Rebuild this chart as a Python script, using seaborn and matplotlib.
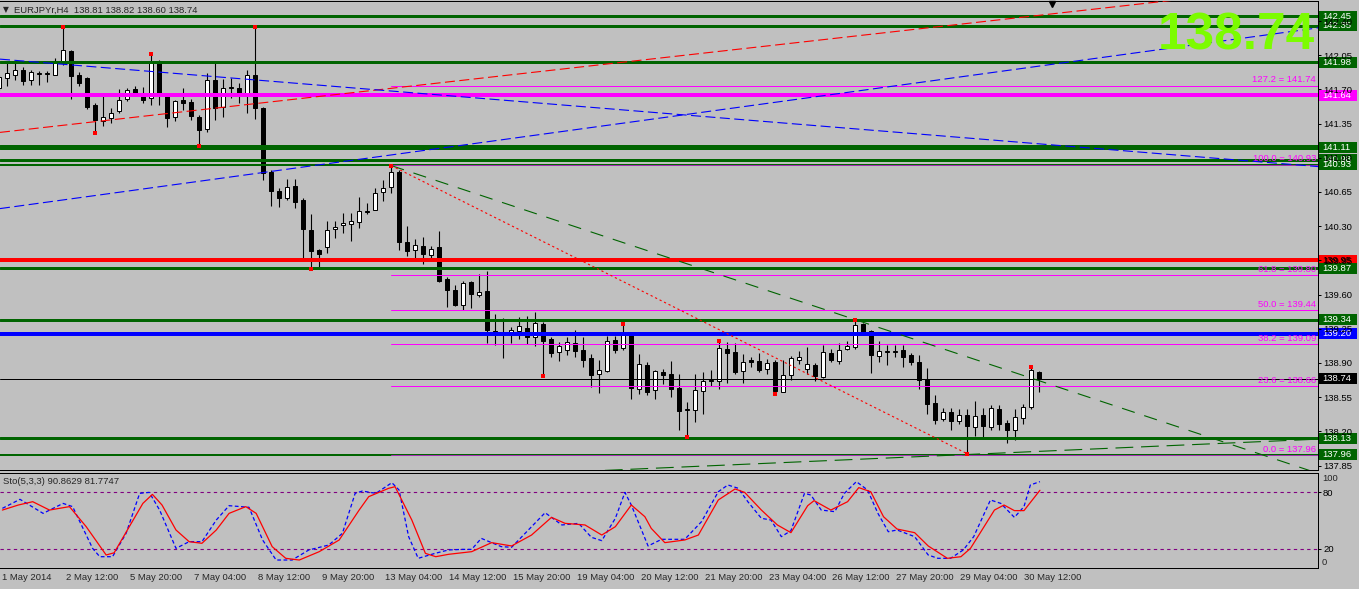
import numpy as np
import matplotlib
matplotlib.use("Agg")
import matplotlib.pyplot as plt
import matplotlib.transforms as mtransforms
from matplotlib.patches import Rectangle
import seaborn as sns

# EURJPYr H4 candles, bar 0 = first visible bar (1 May 2014)
opens = [141.71, 141.82, 141.85, 141.90, 141.80, 141.86, 141.86, 141.85, 141.98, 142.09,
         141.85, 141.82, 141.54, 141.38, 141.41, 141.48, 141.60, 141.70, 141.66, 141.61,
         141.99, 141.64, 141.42, 141.59, 141.57, 141.42, 141.29, 141.80, 141.52, 141.71,
         141.71, 141.65, 141.85, 141.51, 140.85, 140.66, 140.59, 140.71, 140.57, 140.26,
         140.06, 140.09, 140.27, 140.31, 140.32, 140.34, 140.45, 140.47, 140.65, 140.70,
         140.85, 140.14, 140.06, 140.10, 140.01, 140.09, 139.76, 139.65, 139.49, 139.73,
         139.60, 139.64, 139.23, 139.19, 139.21, 139.23, 139.26, 139.17, 139.30, 139.15,
         139.01, 139.03, 139.10, 139.03, 138.95, 138.79, 138.82, 139.13, 139.05, 139.19,
         138.63, 138.88, 138.62, 138.81, 138.79, 138.64, 138.42, 138.42, 138.61, 138.71,
         138.71, 139.04, 139.01, 138.82, 138.93, 138.92, 138.84, 138.91, 138.60, 138.78,
         138.93, 138.84, 138.88, 138.76, 139.00, 138.92, 139.04, 139.06, 139.30, 139.23,
         138.97, 139.01, 139.01, 139.03, 138.98, 138.91, 138.74, 138.49, 138.33, 138.40,
         138.31, 138.37, 138.24, 138.37, 138.24, 138.43, 138.29, 138.21, 138.34, 138.45,
         138.81]
highs = [141.85, 141.98, 141.97, 141.93, 141.90, 141.89, 141.89, 142.02, 142.34, 142.10,
         141.88, 141.83, 141.56, 141.63, 141.51, 141.70, 141.71, 141.74, 141.72, 142.06,
         142.00, 141.65, 141.59, 141.71, 141.60, 141.44, 141.87, 141.97, 141.81, 141.82,
         141.77, 141.90, 142.34, 141.52, 140.88, 140.69, 140.78, 140.78, 140.59, 140.42,
         140.07, 140.35, 140.35, 140.43, 140.43, 140.60, 140.54, 140.69, 140.77, 140.92,
         140.88, 140.30, 140.17, 140.19, 140.10, 140.25, 139.78, 139.70, 139.74, 139.74,
         139.81, 139.84, 139.40, 139.36, 139.27, 139.37, 139.38, 139.42, 139.32, 139.17,
         139.11, 139.17, 139.24, 139.17, 138.99, 138.93, 139.18, 139.18, 139.30, 139.19,
         138.99, 138.91, 138.83, 138.84, 138.92, 138.79, 138.50, 138.79, 138.81, 138.83,
         139.12, 139.11, 139.10, 138.99, 138.96, 139.00, 138.94, 138.93, 138.93, 138.97,
         139.02, 139.06, 138.90, 139.08, 139.04, 139.10, 139.12, 139.34, 139.31, 139.24,
         139.12, 139.08, 139.08, 139.08, 139.00, 138.98, 138.85, 138.57, 138.44, 138.44,
         138.43, 138.43, 138.51, 138.44, 138.47, 138.47, 138.32, 138.43, 138.48, 138.86,
         138.82]
lows = [141.69, 141.73, 141.80, 141.75, 141.75, 141.75, 141.78, 141.85, 141.95, 141.60,
        141.73, 141.50, 141.25, 141.33, 141.36, 141.46, 141.58, 141.63, 141.56, 141.54,
        141.54, 141.32, 141.38, 141.49, 141.39, 141.12, 141.26, 141.39, 141.42, 141.61,
        141.56, 141.46, 141.40, 140.77, 140.51, 140.50, 140.57, 140.49, 139.96, 139.86,
        139.87, 140.03, 140.18, 140.23, 140.15, 140.28, 140.42, 140.47, 140.56, 140.64,
        140.06, 139.99, 139.96, 139.91, 139.95, 139.73, 139.47, 139.48, 139.44, 139.46,
        139.58, 139.10, 139.08, 138.95, 139.10, 139.14, 139.09, 139.07, 138.77, 138.96,
        138.92, 138.98, 138.96, 138.86, 138.65, 138.59, 138.81, 139.00, 139.03, 138.53,
        138.58, 138.57, 138.53, 138.68, 138.55, 138.21, 138.14, 138.30, 138.38, 138.66,
        138.63, 138.69, 138.79, 138.69, 138.86, 138.81, 138.79, 138.58, 138.60, 138.73,
        138.89, 138.79, 138.72, 138.75, 138.91, 138.89, 139.03, 139.04, 139.19, 138.80,
        138.91, 138.88, 138.96, 138.86, 138.88, 138.63, 138.38, 138.28, 138.31, 138.21,
        138.28, 137.97, 138.15, 138.12, 138.21, 138.21, 138.08, 138.11, 138.27, 138.43,
        138.60]
closes = [141.83, 141.87, 141.90, 141.79, 141.88, 141.87, 141.87, 141.99, 142.10, 141.84,
          141.77, 141.52, 141.39, 141.42, 141.46, 141.59, 141.69, 141.65, 141.59, 141.98,
          141.63, 141.41, 141.58, 141.56, 141.43, 141.28, 141.80, 141.51, 141.71, 141.72,
          141.64, 141.85, 141.51, 140.84, 140.66, 140.59, 140.70, 140.55, 140.27, 140.05,
          140.02, 140.26, 140.29, 140.33, 140.35, 140.46, 140.46, 140.64, 140.69, 140.85,
          140.14, 140.05, 140.11, 140.02, 140.07, 139.74, 139.65, 139.49, 139.72, 139.61,
          139.63, 139.24, 139.19, 139.20, 139.24, 139.28, 139.17, 139.31, 139.12, 139.00,
          139.07, 139.11, 139.02, 138.93, 138.78, 138.83, 139.12, 139.03, 139.19, 138.64,
          138.89, 138.60, 138.82, 138.78, 138.63, 138.41, 138.42, 138.62, 138.72, 138.73,
          139.05, 139.00, 138.81, 138.91, 138.91, 138.83, 138.90, 138.61, 138.78, 138.95,
          138.96, 138.89, 138.77, 139.01, 138.93, 139.03, 139.07, 139.29, 139.21, 138.98,
          139.02, 139.02, 139.02, 138.96, 138.91, 138.73, 138.48, 138.32, 138.40, 138.31,
          138.37, 138.25, 138.36, 138.25, 138.44, 138.28, 138.21, 138.35, 138.45, 138.83,
          138.74]

fractal_up = [8, 19, 32, 49, 78, 90, 107, 129]
fractal_dn = [12, 25, 39, 68, 86, 97, 121]

# Stochastic (5,3,3)
sto_k_bar = [0, 2.2, 5.1, 7.6, 8.8, 11.3, 12.2, 13.8, 15.5, 17.2,
             18.4, 19.7, 21.75, 23.4, 25, 26.8, 28.4, 30.9, 32.6, 34.3,
             36.3, 38.4, 40.9, 42.6, 44.2, 45.1, 46.8, 48.8, 49.7, 50.9,
             52.1, 54.2, 55.9, 57.6, 58.8, 60, 62.5, 63.8, 65.9, 68,
             70.1, 72.2, 73.8, 75.1, 76.8, 78, 78.8, 80.9, 82.6, 85.5,
             87.6, 89.7, 90.9, 92.2, 93.4, 95.1, 96.3, 97.6, 98.8, 100.5,
             101.3, 102.6, 104.3, 105.5, 107, 108.4, 109.7, 111, 112.1, 114.3,
             116, 117.2, 118.8, 120.4, 121.7, 123.8, 125.1, 126.8, 128, 128.8,
             130]
sto_k = [62.8, 72.3, 57.5, 68, 64.6, 20.7, 11.9, 11.9, 36.5, 78.6,
         79.6, 61, 20.7, 27.7, 27.7, 50.5, 65.6, 63.9, 29.5, 8.4,
         8.4, 19, 24.2, 36.5, 78.6, 81, 78.6, 89.8, 82.1, 33,
         10.2, 15.4, 19, 19.6, 19.6, 31.2, 22.5, 21.8, 40, 58.2,
         45.3, 47, 32.3, 28.8, 52.3, 79.6, 66.3, 23.2, 30.2, 30.2,
         48.8, 80.3, 87.4, 83.9, 69.8, 52.3, 50.5, 33, 39.3, 78.6,
         76.8, 61, 59.3, 78.6, 90.9, 82.1, 57.5, 38.2, 40, 33,
         13.7, 10.2, 10.2, 19, 33, 71.6, 68, 53.3, 64.6, 87.4,
         90.9]
sto_d_bar = [0, 2, 3.8, 5.9, 8.4, 10.5, 13, 14, 15.9, 17.6,
             18.8, 20, 21.75, 23.4, 25, 26.8, 28.4, 30.5, 31.8, 33.8,
             35.5, 37.2, 39.7, 42.2, 44.7, 45.9, 48.4, 49.2, 51.3, 53,
             54.3, 55.9, 58.8, 61.3, 63.8, 66.3, 68.8, 70.5, 73, 75.1,
             76.8, 78.8, 80.5, 81.3, 83, 85.5, 87.2, 89.7, 91.8, 93,
             95.1, 97.1, 98.8, 100.9, 101.7, 103.8, 105.9, 107.3, 108.8, 110.4,
             112.1, 114.3, 116, 118.4, 120.1, 121.3, 123, 124.3, 125.5, 126.8,
             128, 130]
sto_d = [61, 66.3, 69.8, 61, 64.6, 43.5, 13.7, 16, 43.5, 68,
         77.5, 66.3, 40, 27.7, 26, 40, 57.5, 64.6, 57.5, 22.5,
         10.2, 8.4, 17.2, 29.5, 61, 75.1, 83.9, 85.6, 50.5, 15.4,
         11.9, 14.4, 17.2, 26.7, 23.2, 34.7, 53.3, 47, 45.3, 34.7,
         43.5, 66.3, 54, 41.7, 26.7, 29.5, 34.7, 71.6, 83.2, 79.6,
         61, 45.3, 37.2, 65.6, 70.9, 61, 69.8, 84.6, 80.3, 54,
         41, 37.2, 23.2, 10.2, 11.9, 20.7, 43.5, 61, 66.3, 60.4,
         60.4, 81.8]

# horizontal levels
hl_price = [142.45, 142.35, 141.98, 141.64, 141.11, 140.98, 140.93,
            139.95, 139.87, 139.34, 139.20, 138.74, 138.13, 137.96]
hl_color = ['#006400', '#006400', '#006400', '#FF00FF', '#006400', '#006400', '#006400',
            '#FF0000', '#006400', '#006400', '#0000FF', '#000000', '#006400', '#006400']
hl_width = [3, 3, 3, 4, 5, 3, 2, 4, 3, 3, 4, 1, 3, 2]

# fibonacci from 13 May high to 29 May low
fib_start = 49
fib_level = ['127.2', '100.0', '61.8', '50.0', '38.2', '23.6', '0.0']
fib_price = [141.74, 140.93, 139.80, 139.44, 139.09, 138.66, 137.96]

# trend lines: (bar0, price0, bar1, price1)
trend_red = (0.09, 141.26, 164.84, 142.78)
trend_blue_dn = (0.09, 142.01, 164.84, 140.91)
trend_blue_up = (0.09, 140.48, 164.84, 142.33)
trend_green_dn = (49, 140.92, 164.84, 137.77)
trend_red_dot = (49, 140.92, 121, 137.97)
trend_green_up = (75.7, 137.80, 164.84, 138.12)

price_ticks = [142.40, 142.05, 141.70, 141.35, 141.00, 140.65, 140.30,
               139.95, 139.60, 139.25, 138.90, 138.55, 138.20, 137.85]
time_bars = [0, 8, 16, 24, 32, 40, 48, 56, 64, 72, 80, 88, 96, 104, 112, 120, 128]
time_labels = ['1 May 2014', '2 May 12:00', '5 May 20:00', '7 May 04:00', '8 May 12:00',
               '9 May 20:00', '13 May 04:00', '14 May 12:00', '15 May 20:00', '19 May 04:00',
               '20 May 12:00', '21 May 20:00', '23 May 04:00', '26 May 12:00', '27 May 20:00',
               '29 May 04:00', '30 May 12:00']

sns.set_theme(style="white")
plt.rcParams['font.family'] = ['Liberation Sans', 'DejaVu Sans']
BG = '#C0C0C0'
PX = 0.72  # one pixel in points
FS = 6.8

W, H = 1359, 589
fig = plt.figure(figsize=(W / 100, H / 100), dpi=100)
fig.patch.set_facecolor(BG)
ax = fig.add_axes([0, 1 - 470 / H, 1318 / W, 469 / H])
ax2 = fig.add_axes([0, 1 - 568 / H, 1318 / W, 95 / H])
xlim = (0.09, 164.84)

for a in (ax, ax2):
    a.set_facecolor(BG)
    a.set_xlim(*xlim)
    a.set_axisbelow(False)
    a.spines['left'].set_visible(False)
    for s in ('top', 'right', 'bottom'):
        a.spines[s].set_color('black')
        a.spines[s].set_linewidth(PX)

ax.set_ylim(137.804, 142.605)

# candles
bars = np.arange(len(opens))
o = np.array(opens)
c = np.array(closes)
up = c >= o
lo = np.minimum(o, c)
hgt = np.maximum(np.abs(c - o), 0.008)
ax.vlines(bars, lows, highs, color='black', lw=PX * 1.1, zorder=2)
ax.bar(bars[up], hgt[up], bottom=lo[up], width=0.5, color='white',
       edgecolor='black', linewidth=PX, zorder=2.1)
ax.bar(bars[~up], hgt[~up], bottom=lo[~up], width=0.5, color='black',
       edgecolor='black', linewidth=PX, zorder=2.1)

# horizontal lines
for p, col, w in zip(hl_price, hl_color, hl_width):
    ax.axhline(p, color=col, lw=w * PX, zorder=3)

# fibo
for lvl, p in zip(fib_level, fib_price):
    col = '#A030B0' if lvl in ('100.0', '0.0') else '#FF00FF'
    ax.plot([fib_start, xlim[1]], [p, p], color=col, lw=PX, zorder=3.1)
    ax.text(1316 / 1318, p + 0.012, f'{lvl} = {p:.2f}', transform=ax.get_yaxis_transform(),
            ha='right', va='bottom', fontsize=FS, color='#FF00FF', zorder=3.2)

# trend lines
def trend(t, col, dash):
    sns.lineplot(x=[t[0], t[2]], y=[t[1], t[3]], ax=ax, color=col, lw=0.8,
                 linestyle=(0, dash), zorder=3.3)

trend(trend_red, '#FF0000', (9, 4))
trend(trend_blue_dn, '#0000FF', (9, 4))
trend(trend_blue_up, '#0000FF', (9, 4))
trend(trend_green_dn, '#006400', (12, 9))
trend(trend_red_dot, '#FF0000', (2, 2.5))
trend(trend_green_up, '#006400', (16, 7))

# fractals
ax.plot(fractal_up, [highs[i] for i in fractal_up], 's', color='red', ms=2.2, mew=0, zorder=4)
ax.plot(fractal_dn, [lows[i] for i in fractal_dn], 's', color='red', ms=2.2, mew=0, zorder=4)

# shift marker
ax.plot([131.6], [142.575], 'v', color='black', ms=5, clip_on=False, zorder=5)

# price axis
ax.set_xticks([])
ax.yaxis.tick_right()
ax.set_yticks(price_ticks)
ax.set_yticklabels([f'{v:.2f}' for v in price_ticks])
ax.tick_params(axis='y', direction='out', length=3 * PX, width=PX, pad=1.5,
               labelsize=FS, colors='black')

# price boxes on the right
bt = ax.get_yaxis_transform()
for p, col in zip(hl_price, hl_color):
    ax.add_patch(Rectangle((1319 / 1318, p - 0.056), 38 / 1318, 0.112, transform=bt,
                           facecolor=col, edgecolor='none', clip_on=False, zorder=2.2))
    tcol = 'black' if col == '#FF0000' else 'white'
    ax.text(1322 / 1318, p, f'{p:.2f}', transform=bt, ha='left', va='center',
            fontsize=FS, color=tcol, clip_on=False, zorder=2.3)

# stochastic
ax2.set_ylim(0, 100)
for lv in (80, 20):
    ax2.axhline(lv, color='#800080', lw=0.8, linestyle=(0, (3, 3)), zorder=1)
sns.lineplot(x=sto_d_bar, y=sto_d, ax=ax2, color='#FF0000', lw=0.9, zorder=3)
sns.lineplot(x=sto_k_bar, y=sto_k, ax=ax2, color='#0000FF', lw=0.9,
             linestyle=(0, (3, 2)), zorder=2)
ax2.set_xlabel('')
ax2.set_ylabel('')
ax2.yaxis.tick_right()
ax2.set_yticks([80, 20])
ax2.set_yticklabels(['80', '20'])
ax2.tick_params(axis='y', direction='out', length=3 * PX, width=PX, pad=1.5,
                labelsize=FS, colors='black')
for v, s in ((93.7, '100'), (6.3, '0')):
    ax2.text(1322 / 1318, v, s, transform=ax2.get_yaxis_transform(), ha='left',
             va='center', fontsize=FS, clip_on=False)

ax2.set_xticks([b - 0.3 for b in time_bars])
ax2.set_xticklabels([])
ax2.tick_params(axis='x', direction='out', length=4 * PX, width=PX, colors='black')
xt = ax2.get_xaxis_transform()
for b, s in zip(time_bars, time_labels):
    ax2.text(b, -0.105, s, transform=xt, ha='left', va='center', fontsize=FS,
             clip_on=False)

# texts
fig.text(3 / W, 1 - 10 / H, '\u25bc', fontsize=5.5, va='center', ha='left',
         family=['DejaVu Sans'])
fig.text(14 / W, 1 - 10 / H, 'EURJPYr,H4  138.81 138.82 138.60 138.74', fontsize=FS,
         va='center', ha='left')
fig.text(3 / W, 1 - 482 / H, 'Sto(5,3,3) 90.8629 81.7747', fontsize=FS,
         va='center', ha='left')
fig.text(1315 / W, 1 - 36 / H, '138.74', fontsize=37, fontweight='bold',
         color='#7CFC00', ha='right', va='center', zorder=10)

fig.savefig('out.png', dpi=100, facecolor=fig.get_facecolor())
